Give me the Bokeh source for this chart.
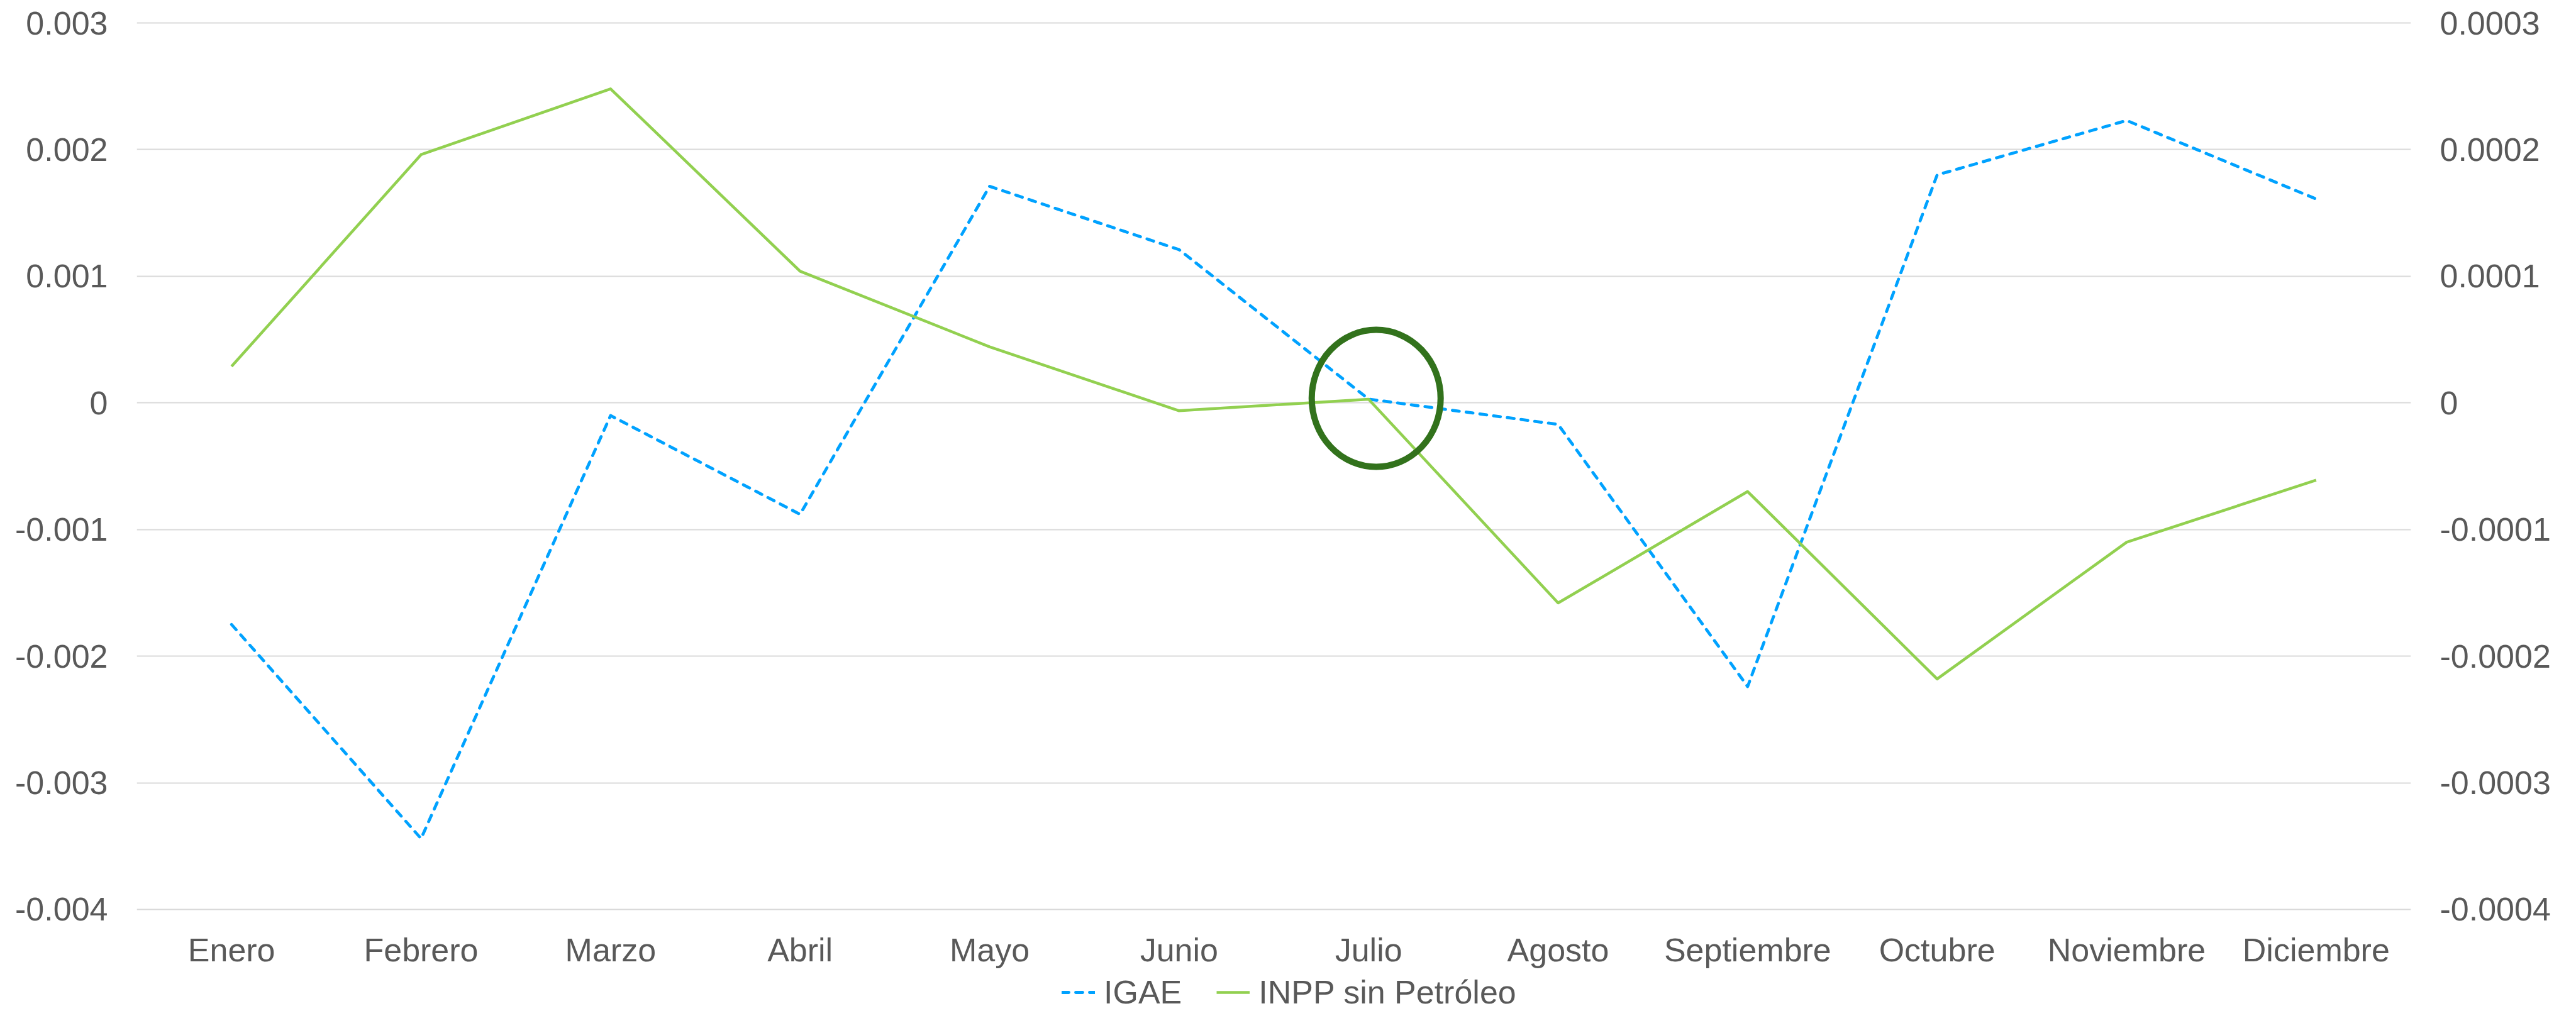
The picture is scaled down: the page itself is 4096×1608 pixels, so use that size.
from bokeh.plotting import figure
from bokeh.layouts import column
from bokeh.models import FactorRange, Range1d, LinearAxis, FixedTicker, Legend, LegendItem
from bokeh.embed import file_html
from bokeh.resources import INLINE

months = ["Enero", "Febrero", "Marzo", "Abril", "Mayo", "Junio", "Julio",
          "Agosto", "Septiembre", "Octubre", "Noviembre", "Diciembre"]
igae = [-0.00175, -0.00344, -0.00010, -0.00088, 0.00171, 0.00121, 0.00003,
        -0.00017, -0.00224, 0.00180, 0.00223, 0.00161]
inpp = [0.0000288, 0.000196, 0.000248, 0.000104, 0.0000443, -0.0000062, 0.0000029,
        -0.000158, -0.000070, -0.000218, -0.000110, -0.000061]
series_names = ["IGAE", "INPP sin Petróleo"]

left_ticks = [-0.004, -0.003, -0.002, -0.001, 0, 0.001, 0.002, 0.003]
left_labels = ["-0.004", "-0.003", "-0.002", "-0.001", "0", "0.001", "0.002", "0.003"]
right_ticks = [-0.0004, -0.0003, -0.0002, -0.0001, 0, 0.0001, 0.0002, 0.0003]
right_labels = ["-0.0004", "-0.0003", "-0.0002", "-0.0001", "0", "0.0001", "0.0002", "0.0003"]

# highlight circle around Julio (synthetic categorical coordinate, left-axis value)
highlight_x = [6.54]
highlight_y = [0.0000356]

FONT = "Liberation Sans"
TXT = "#595959"
FS = "52px"
BLUE = "#00A2FF"
GREEN = "#92D050"

# small padding so that the edge gridlines stay fully visible
pad_l = 0.00001
pad_r = 0.000001

p = figure(x_range=FactorRange(factors=months, range_padding=0, factor_padding=0),
           y_range=Range1d(-0.004 - pad_l, 0.003 + pad_l),
           frame_width=3616, frame_height=1414,
           min_border_left=217, min_border_right=261,
           min_border_top=34, min_border_bottom=96,
           output_backend="svg", toolbar_location=None,
           background_fill_color="white", border_fill_color="white")
p.outline_line_color = None
p.extra_y_ranges = {"right": Range1d(-0.0004 - pad_r, 0.0003 + pad_r)}

raxis = LinearAxis(y_range_name="right")
p.add_layout(raxis, "right")

p.yaxis[0].ticker = FixedTicker(ticks=left_ticks)
p.yaxis[0].major_label_overrides = dict(zip(left_ticks, left_labels))
raxis.ticker = FixedTicker(ticks=right_ticks)
raxis.major_label_overrides = dict(zip(right_ticks, right_labels))

for ax in [p.xaxis[0], p.yaxis[0], raxis]:
    ax.axis_line_color = None
    ax.major_tick_line_color = None
    ax.minor_tick_line_color = None
    ax.major_tick_out = 0
    ax.major_tick_in = 0
    ax.minor_tick_out = 0
    ax.minor_tick_in = 0
    ax.major_label_text_font = FONT
    ax.major_label_text_font_size = FS
    ax.major_label_text_color = TXT
p.yaxis[0].major_label_standoff = 46
raxis.major_label_standoff = 46
p.xaxis[0].major_label_standoff = 33

p.xgrid.grid_line_color = None
p.ygrid.grid_line_color = "#d9d9d9"
p.ygrid.grid_line_width = 1.8

line1 = dict(line_color=BLUE, line_width=4.8, line_dash="11 11", line_cap="round", line_join="round")
line2 = dict(line_color=GREEN, line_width=4.5, line_join="round")

p.line(months, igae, **line1)
p.line(months, inpp, y_range_name="right", **line2)

p.ellipse(x=highlight_x, y=highlight_y, width=[205], height=[218],
          width_units="screen", height_units="screen",
          fill_color=None, line_color="#32721C", line_width=10)

# legend strip below the chart (its series sit outside its visible range,
# so only the legend samples show)
leg = figure(width=4094, height=64,
             x_range=FactorRange(factors=months, range_padding=0, factor_padding=0),
             y_range=Range1d(1, 2),
             min_border_left=217, min_border_right=261, min_border_top=0, min_border_bottom=0,
             output_backend="svg", toolbar_location=None,
             background_fill_color="white", border_fill_color="white")
leg.outline_line_color = None
leg.axis.visible = False
leg.grid.visible = False
k1 = leg.line(months, igae, **line1)
k2 = leg.line(months, inpp, **line2)

legend = Legend(items=[LegendItem(label=series_names[0], renderers=[k1]),
                       LegendItem(label=series_names[1], renderers=[k2])],
                orientation="horizontal", location=(1471, 0),
                border_line_color=None, background_fill_alpha=0,
                padding=0, margin=0, spacing=55, label_standoff=14,
                glyph_width=53, glyph_height=30,
                label_text_font=FONT, label_text_font_size=FS, label_text_color=TXT)
leg.add_layout(legend)

layout = column(p, leg, spacing=0)
open("out.html", "w").write(file_html(layout, INLINE))
